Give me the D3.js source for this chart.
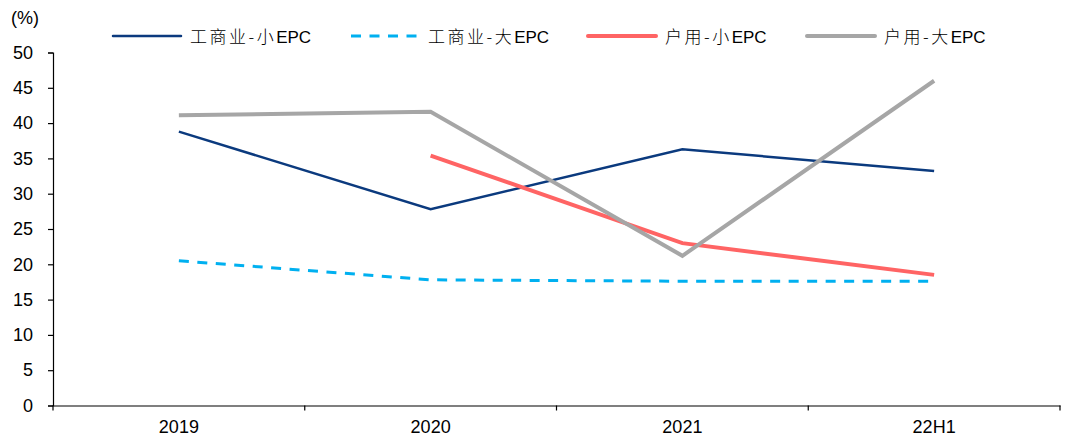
<!DOCTYPE html>
<html>
<head>
<meta charset="utf-8">
<script src="https://cdn.jsdelivr.net/npm/d3@7"></script>
<style>
  html, body { margin: 0; padding: 0; background: #fff; }
  svg { display: block; }
  .tick text { font-family: "Liberation Sans", Arial, sans-serif; font-size: 18px; fill: #000; }
</style>
</head>
<body>
<svg id="chart" width="1065" height="441"></svg>
<script>
// Categories and series values (%)
const categories = ["2019", "2020", "2021", "22H1"];
const seriesNames = ["工商业-小EPC", "工商业-大EPC", "户用-小EPC", "户用-大EPC"];
const ciSmall = [38.8, 27.8, 36.3, 33.2];
const ciLarge = [20.5, 17.8, 17.6, 17.6];
const resSmall = [null, 35.4, 23.0, 18.5];
const resLarge = [41.1, 41.6, 21.2, 46.0];
const yTicks = [0, 5, 10, 15, 20, 25, 30, 35, 40, 45, 50];

const series = [
  { name: seriesNames[0], values: ciSmall,  color: "#0B3A7E", width: 2.5, dash: null },
  { name: seriesNames[1], values: ciLarge,  color: "#00B0F0", width: 3,   dash: "10,8.5" },
  { name: seriesNames[2], values: resSmall, color: "#FF6464", width: 4,   dash: null },
  { name: seriesNames[3], values: resLarge, color: "#A6A6A6", width: 4,   dash: null }
];

const svg = d3.select("#chart");
const plotLeft = 53, plotRight = 1060, plotTop = 52.5, plotBottom = 405.5;

const x = d3.scaleBand().domain(categories).range([plotLeft, plotRight]);
const y = d3.scaleLinear().domain([0, 50]).range([plotBottom, plotTop]);

// Y axis
const yAxis = svg.append("g")
  .attr("transform", `translate(${plotLeft},0)`)
  .call(d3.axisLeft(y).tickValues(yTicks).tickSize(5).tickPadding(15));
yAxis.select(".domain").attr("stroke", "#000").attr("stroke-width", 1.2);
yAxis.selectAll(".tick line").attr("stroke", "#000").attr("stroke-width", 1.2);

// X axis with ticks at band boundaries
const xAxis = svg.append("g")
  .attr("transform", `translate(0,${plotBottom})`)
  .call(d3.axisBottom(x).tickSize(0).tickPadding(14.5));
xAxis.select(".domain").attr("stroke", "#000").attr("stroke-width", 1.2);
const bounds = categories.map(c => x(c)).concat([x.range()[1]]);
xAxis.selectAll(".bound").data(bounds).enter().append("line")
  .attr("class", "bound")
  .attr("x1", d => d).attr("x2", d => d)
  .attr("y1", 0).attr("y2", 5)
  .attr("stroke", "#000").attr("stroke-width", 1.2);

// Unit label
svg.append("text")
  .attr("x", 11).attr("y", 24)
  .style("font-family", "'Liberation Sans', Arial, sans-serif")
  .style("font-size", "18px")
  .text("(%)");

// Lines
const cx = c => x(c) + x.bandwidth() / 2;
const line = d3.line()
  .defined(d => d.v !== null)
  .x(d => cx(d.c))
  .y(d => y(d.v));

series.forEach(s => {
  const pts = categories.map((c, i) => ({ c, v: s.values[i] }));
  svg.append("path")
    .datum(pts)
    .attr("d", line)
    .attr("fill", "none")
    .attr("stroke", s.color)
    .attr("stroke-width", s.width)
    .attr("stroke-linejoin", "miter")
    .attr("stroke-dasharray", s.dash);
});

// Legend
const legendX = [113, 351, 588, 807];
const legend = svg.append("g");
series.forEach((s, i) => {
  const g = legend.append("g").attr("transform", `translate(${legendX[i]},36)`);
  g.append("line")
    .attr("x1", 0).attr("x2", 68)
    .attr("stroke", s.color)
    .attr("stroke-width", s.width)
    .attr("stroke-linecap", s.dash ? "butt" : "round")
    .attr("stroke-dasharray", s.dash);
  const m = s.name.match(/^(.*?)([A-Za-z]+)$/);
  const t = g.append("text").attr("x", 77).attr("y", 6.5)
    .style("font-size", "17px");
  t.append("tspan")
    .style("font-family", "'Noto Sans CJK SC', sans-serif")
    .style("font-weight", 300)
    .style("letter-spacing", "2.5px")
    .text(m[1]);
  t.append("tspan")
    .style("font-family", "'Liberation Sans', Arial, sans-serif")
    .text(m[2]);
});
</script>
</body>
</html>
